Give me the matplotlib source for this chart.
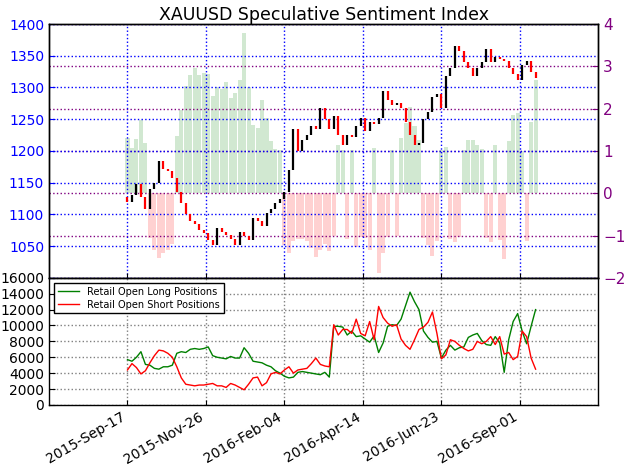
import matplotlib
matplotlib.use("Agg")
import matplotlib.pyplot as plt
import matplotlib.dates as mdates
import numpy as np
import pandas as pd

# ---------------- data (sampled every 4 calendar days) ----------------
start_date = "2015-09-17"
n_points = 92

closes = [1120, 1130, 1148, 1128, 1108, 1140, 1150, 1184, 1172, 1168,
          1158, 1135, 1118, 1100, 1090, 1085, 1076, 1070, 1060, 1052,
          1078, 1072, 1068, 1062, 1052, 1072, 1066, 1060, 1095, 1090,
          1082, 1102, 1108, 1118, 1125, 1135, 1170, 1235, 1200, 1218,
          1225, 1240, 1235, 1268, 1250, 1235, 1255, 1225, 1210, 1225,
          1222, 1240, 1252, 1232, 1245, 1242, 1252, 1295, 1280, 1272,
          1275, 1268, 1245, 1225, 1210, 1212, 1250, 1262, 1285, 1290,
          1268, 1318, 1330, 1365, 1358, 1340, 1330, 1318, 1330, 1340,
          1360, 1340, 1348, 1345, 1342, 1330, 1322, 1312, 1335, 1342,
          1325, 1315]
first_open = 1128

long_pos = [5700, 5500, 6000, 6700, 5100, 5000, 4600, 4500, 4800, 4800,
            5000, 6500, 6700, 6600, 7000, 7100, 7000, 7100, 7300, 6200,
            6000, 5900, 5800, 6100, 5900, 5900, 7200, 6500, 5500, 5400,
            5300, 5000, 4800, 4300, 4000, 3600, 3400, 3500, 4100, 4200,
            4100, 4000, 3900, 3800, 4100, 3500, 9900, 9900, 9800, 8800,
            9300, 8600, 8700, 8300, 7900, 8700, 6600, 7800, 9900, 10100,
            10000, 10800, 12500, 14200, 13000, 12000, 9300, 8500, 7900, 8000,
            5900, 6900, 7500, 6900, 7200, 7300, 8500, 8800, 9000, 8100,
            7600, 7500, 8600, 7800, 4100, 8200, 10500, 11500, 9300, 7700,
            9900, 12000]

short_pos = [4400, 5200, 4700, 3900, 4300, 5300, 6200, 6900, 6800, 6500,
             6000, 4800, 3400, 2600, 2500, 2400, 2500, 2500, 2600, 2700,
             2400, 2400, 2200, 2700, 2500, 2200, 1900, 2600, 3400, 3500,
             2400, 2800, 3900, 4100, 3900, 4400, 4800, 4000, 4400, 4500,
             4600, 5200, 5900, 5100, 4900, 4800, 10100, 8800, 9500, 9500,
             9000, 10800, 9000, 8700, 10500, 8200, 12400, 11000, 10300, 9900,
             10100, 8300, 7500, 7000, 8200, 9500, 9800, 10400, 11700, 9000,
             5800, 6300, 8200, 8000, 7500, 7100, 6800, 7000, 8000, 7700,
             8000, 8600, 7600, 8600, 6400, 6600, 5700, 6100, 9300, 8600,
             5900, 4500]

sentiment = [1.30, 1.06, 1.28, 1.72, 1.19, -1.06, -1.35, -1.53, -1.42, -1.35,
             -1.20, 1.35, 1.97, 2.54, 2.80, 2.96, 2.80, 2.84, 2.81, 2.30,
             2.50, 2.46, 2.64, 2.26, 2.36, 2.68, 3.79, 2.50, 1.62, 1.54,
             2.21, 1.79, 1.23, 1.05, 1.03, -1.22, -1.41, -1.14, -1.07, -1.07,
             -1.12, -1.30, -1.51, -1.34, -1.20, -1.37, -1.02, 1.13, 1.03, -1.08,
             1.03, -1.26, -1.03, -1.05, -1.33, 1.06, -1.88, -1.41, -1.04, 1.02,
             -1.01, 1.30, 1.67, 2.03, 1.59, 1.26, -1.05, -1.22, -1.48, -1.13,
             1.02, 1.10, -1.09, -1.16, -1.04, 1.03, 1.25, 1.26, 1.13, 1.05,
             -1.05, -1.15, 1.13, -1.10, -1.56, 1.24, 1.84, 1.89, 1.00, -1.12,
             1.68, 2.67]

title = "XAUUSD Speculative Sentiment Index"
long_label = "Retail Open Long Positions"
short_label = "Retail Open Short Positions"
tick_dates = ["2015-09-17", "2015-11-26", "2016-02-04", "2016-04-14",
              "2016-06-23", "2016-09-01"]

# ---------------- build ----------------
dates = pd.date_range(start_date, periods=n_points, freq="4D")
xd = mdates.date2num(dates.to_pydatetime())
closes_a = np.array(closes, dtype=float)
opens_a = np.concatenate([[first_open], closes_a[:-1]])
sent = np.array(sentiment)
ticks = mdates.date2num(pd.to_datetime(tick_dates).to_pydatetime())

fig = plt.figure(figsize=(6.25, 4.67), dpi=100)
fig.patch.set_facecolor("white")

ax1 = fig.add_axes([0.0784, 0.405, 0.879, 0.5436])
ax2 = ax1.twinx()
ax3 = fig.add_axes([0.0784, 0.133, 0.879, 0.272], sharex=ax1)

# sentiment bars on right axis (behind)
ax2.bar(xd[sent > 0], sent[sent > 0], width=3.6, color="green", alpha=0.18,
        linewidth=0, zorder=1)
ax2.bar(xd[sent < 0], sent[sent < 0], width=3.6, color="red", alpha=0.18,
        linewidth=0, zorder=1)
ax2.set_ylim(-2, 4)
ax2.set_yticks(np.arange(-2, 5, 1))
ax2.tick_params(axis="y", colors="purple", labelsize=11, direction="in", length=4)
for t in ax2.get_yticklabels():
    t.set_color("purple")
ax2.grid(True, axis="y", color="purple", linestyle=":", linewidth=1.0)

# candles on left axis, above the bars
ax1.set_zorder(ax2.get_zorder() + 1)
ax1.patch.set_visible(False)
up = closes_a >= opens_a
ax1.vlines(xd[up], opens_a[up], closes_a[up], color="black", linewidth=1.6)
ax1.vlines(xd[~up], opens_a[~up], closes_a[~up], color="red", linewidth=1.6)
ax1.set_ylim(1000, 1400)
ax1.set_yticks(np.arange(1000, 1401, 50))
ax1.set_yticklabels([""] + [str(v) for v in range(1050, 1401, 50)])
ax1.tick_params(axis="y", colors="blue", labelsize=10, direction="in", length=4)
for t in ax1.get_yticklabels():
    t.set_color("blue")
ax1.grid(True, axis="both", color="blue", linestyle=":", linewidth=1.0)
ax1.set_xticks(ticks)
ax1.tick_params(axis="x", labelbottom=False, direction="in")
ax1.set_title(title, fontsize=12.5, pad=3)

# positions
ax3.plot(xd, long_pos, color="green", linewidth=1.0, label=long_label)
ax3.plot(xd, short_pos, color="red", linewidth=1.0, label=short_label)
ax3.set_ylim(0, 16000)
ax3.set_yticks(np.arange(0, 16001, 2000))
ax3.tick_params(axis="y", labelsize=10, direction="in", length=4)
ax3.grid(True, color="0.5", linestyle=":", linewidth=1.0)
ax3.set_xticks(ticks)
ax3.xaxis.set_major_formatter(mdates.DateFormatter("%Y-%b-%d"))
ax3.tick_params(axis="x", labelsize=10, direction="in")
for lbl in ax3.get_xticklabels():
    lbl.set_rotation(30)
    lbl.set_ha("right")
leg = ax3.legend(loc="upper left", fontsize=7, fancybox=False, framealpha=1,
                 edgecolor="black", handlelength=2.2, borderpad=0.4,
                 labelspacing=0.3)
leg.get_frame().set_linewidth(1.0)

ax1.set_xlim(mdates.date2num(pd.Timestamp("2015-07-09")),
             mdates.date2num(pd.Timestamp("2016-11-10")))

for a in (ax1, ax2, ax3):
    for s in a.spines.values():
        s.set_linewidth(1.0)

fig.savefig("out.png", dpi=100, facecolor="white")
